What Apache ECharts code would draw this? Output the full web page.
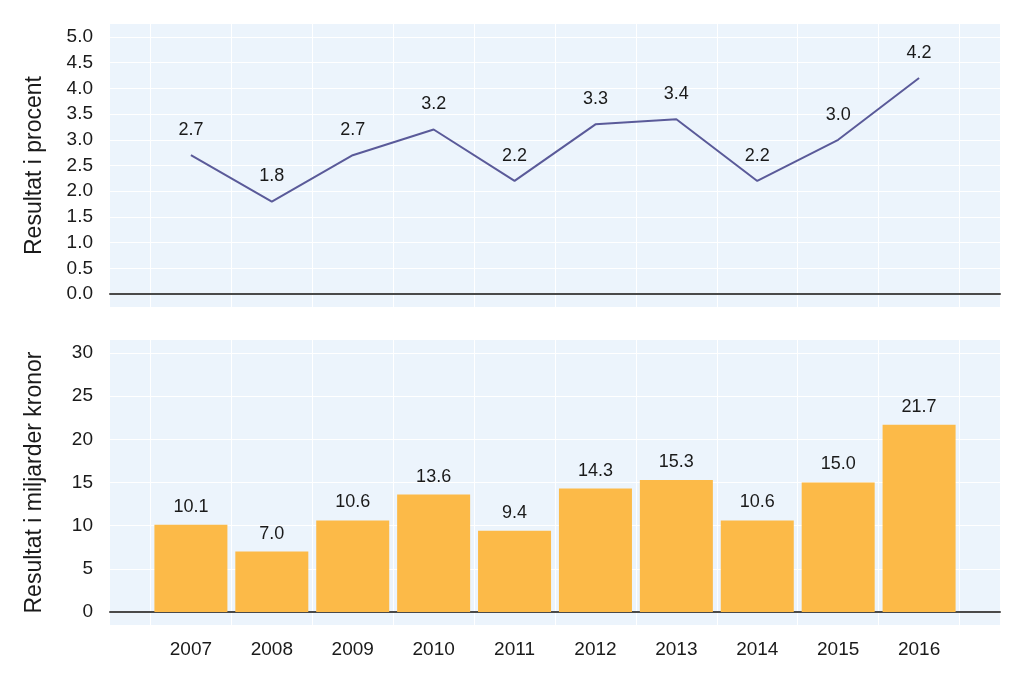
<!DOCTYPE html>
<html>
<head>
<meta charset="utf-8">
<script src="https://cdn.jsdelivr.net/npm/echarts@6/dist/echarts.min.js"></script>
<style>html,body{margin:0;padding:0;background:#fff;}#c{width:1023px;height:679px;}</style>
</head>
<body>
<div id="c"></div>
<script>
const years = [2007, 2008, 2009, 2010, 2011, 2012, 2013, 2014, 2015, 2016];
const pctValues = [2.7, 1.8, 2.7, 3.2, 2.2, 3.3, 3.4, 2.2, 3.0, 4.2];
const sekValues = [10.1, 7.0, 10.6, 13.6, 9.4, 14.3, 15.3, 10.6, 15.0, 21.7];
const pctTicks = [0, 0.5, 1.0, 1.5, 2.0, 2.5, 3.0, 3.5, 4.0, 4.5, 5.0];
const sekTicks = [0, 5, 10, 15, 20, 25, 30];
const yearBounds = [2006.5, 2007.5, 2008.5, 2009.5, 2010.5, 2011.5, 2012.5, 2013.5, 2014.5, 2015.5, 2016.5];

const FONT = '"Liberation Sans", Arial, sans-serif';
const txt = '#1a1a1a';
const bg = '#ECF4FC';

function xAxisCfg(gridIndex, showLabels) {
  return {
    type: 'value', gridIndex: gridIndex, min: 2006, max: 2017,
    axisLine: { show: true, onZero: true, lineStyle: { color: '#4a4a4a', width: 2 } },
    axisTick: { show: false, customValues: yearBounds },
    splitLine: { show: true, lineStyle: { color: '#ffffff', width: 1 } },
    axisLabel: { show: showLabels, customValues: years, margin: 15, fontSize: 19, color: txt, fontFamily: FONT,
      formatter: v => String(v) }
  };
}
function yAxisCfg(gridIndex, min, max, ticks, name, dec) {
  return {
    type: 'value', gridIndex: gridIndex, min: min, max: max,
    name: name, nameLocation: 'middle', nameGap: 64,
    nameTextStyle: { fontSize: 23, color: txt, fontFamily: FONT },
    axisLine: { show: false },
    axisTick: { show: false, customValues: ticks },
    splitLine: { show: true, lineStyle: { color: '#ffffff', width: 1 } },
    axisLabel: { customValues: ticks, margin: 17, fontSize: 19, color: txt, fontFamily: FONT,
      formatter: v => v.toFixed(dec) }
  };
}

const chart = echarts.init(document.getElementById('c'), null, { renderer: 'canvas' });
chart.setOption({
  animation: false,
  backgroundColor: '#ffffff',
  grid: [
    { left: 110, right: 23, top: 24, height: 283, show: true, backgroundColor: bg, borderWidth: 0 },
    { left: 110, right: 23, top: 340, height: 285, show: true, backgroundColor: bg, borderWidth: 0 }
  ],
  xAxis: [xAxisCfg(0, false), xAxisCfg(1, true)],
  yAxis: [
    yAxisCfg(0, -0.25, 5.25, pctTicks, 'Resultat i procent', 1),
    yAxisCfg(1, -1.5, 31.5, sekTicks, 'Resultat i miljarder kronor', 0)
  ],
  series: [
    {
      type: 'line', xAxisIndex: 0, yAxisIndex: 0,
      data: years.map((y, i) => [y, pctValues[i]]),
      showSymbol: true, symbol: 'circle', symbolSize: 0,
      itemStyle: { color: '#5A5A99' },
      lineStyle: { color: '#5A5A99', width: 2 },
      label: { show: true, position: 'top', distance: 16, fontSize: 18, color: txt, fontFamily: FONT,
        formatter: p => p.value[1].toFixed(1) }
    },
    {
      type: 'bar', xAxisIndex: 1, yAxisIndex: 1,
      data: years.map((y, i) => [y, sekValues[i]]),
      barWidth: 73,
      itemStyle: { color: '#FCBA48' },
      label: { show: true, position: 'top', distance: 9, fontSize: 18, color: txt, fontFamily: FONT,
        formatter: p => p.value[1].toFixed(1) }
    }
  ]
});
</script>
</body>
</html>
